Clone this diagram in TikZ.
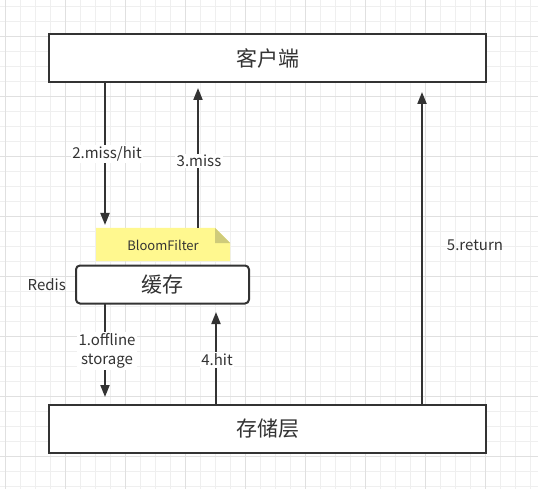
\documentclass[tikz,border=0pt]{standalone}
\usepackage{fontspec}
\setmainfont{Noto Sans CJK SC}
\usetikzlibrary{arrows.meta}
\definecolor{ink}{HTML}{333333}
\definecolor{gridminor}{HTML}{EFEFEF}
\definecolor{gridmajor}{HTML}{E0E0E0}
\definecolor{notefill}{HTML}{FFF88F}
\definecolor{notefold}{HTML}{CFCB7A}
\tikzset{
  block/.style={draw=ink, line width=2pt, fill=white, minimum width=437pt, minimum height=48pt, inner sep=0pt, font=\fontsize{21}{21}\selectfont, text=ink},
  cachebox/.style={draw=ink, line width=2pt, fill=white, rounded corners=4pt, minimum width=173pt, minimum height=38pt, inner sep=0pt, font=\fontsize{21}{21}\selectfont, text=ink},
  conn/.style={draw=ink, line width=2pt, -{Triangle[length=12pt,width=9pt]}},
  lbl/.style={fill=white, inner sep=1.5pt, text=ink, font=\fontsize{15}{19}\selectfont, align=center},
  plainlbl/.style={inner sep=0pt, text=ink, font=\fontsize{15}{19}\selectfont},
}
\begin{document}
\begin{tikzpicture}[x=1pt,y=-1pt]
\useasboundingbox (0,0) rectangle (538,489);
\fill[white] (0,0) rectangle (538,489);
% grid
\foreach \x in {5.5,20.5,...,537} \draw[gridminor, line width=1pt] (\x,0) -- (\x,489);
\foreach \y in {6.7,21.7,...,488} \draw[gridminor, line width=1pt] (0,\y) -- (538,\y);
\foreach \x in {5.5,65.5,...,537} \draw[gridmajor, line width=1pt] (\x,0) -- (\x,489);
\foreach \y in {36.7,96.7,...,488} \draw[gridmajor, line width=1pt] (0,\y) -- (538,\y);

% nodes
\node[block] (client) at (267.5,58) {客户端};
\node[block] (store) at (267.5,429) {存储层};
\node[cachebox] (cache) at (162.5,284.5) {缓存};
% note
\fill[notefill] (96,228) -- (215,228) -- (230,243) -- (230,261) -- (96,261) -- cycle;
\fill[notefold] (215,228) -- (230,243) -- (215,243) -- cycle;
\node[inner sep=0pt, text=ink, font=\fontsize{13}{13}\selectfont] (note) at (163,245) {BloomFilter};
\coordinate (noteTopL) at (105,228);
\coordinate (noteTopR) at (198,228);
\node[plainlbl, anchor=east] (redis) at (66,285) {Redis};

% connectors
\coordinate (c2) at (105,82);
\coordinate (c3) at (198,82);
\coordinate (c5) at (422,82);
\coordinate (s1) at (105,405);
\coordinate (s4) at (216,405);
\coordinate (s5) at (422,405);
\coordinate (k1) at (105,303);
\coordinate (k4) at (216,303);

\draw[conn, shorten >=3pt] (c2) -- (noteTopL);
\draw[conn, shorten >=6pt] (noteTopR) -- (c3);
\draw[conn, shorten >=8pt] (k1) -- (s1);
\draw[conn, shorten >=9pt] (s4) -- (k4);
\draw[conn, shorten >=10pt] (s5) -- (c5);

% labels
\node[lbl] (l2) at (107,154) {2.miss/hit};
\node[lbl] (l3) at (199,161) {3.miss};
\node[lbl] (l1) at (107,351) {1.offline\\storage};
\node[lbl] (l4) at (217,360) {4.hit};
\node[plainlbl] (l5) at (475,245) {5.return};
\end{tikzpicture}
\end{document}
